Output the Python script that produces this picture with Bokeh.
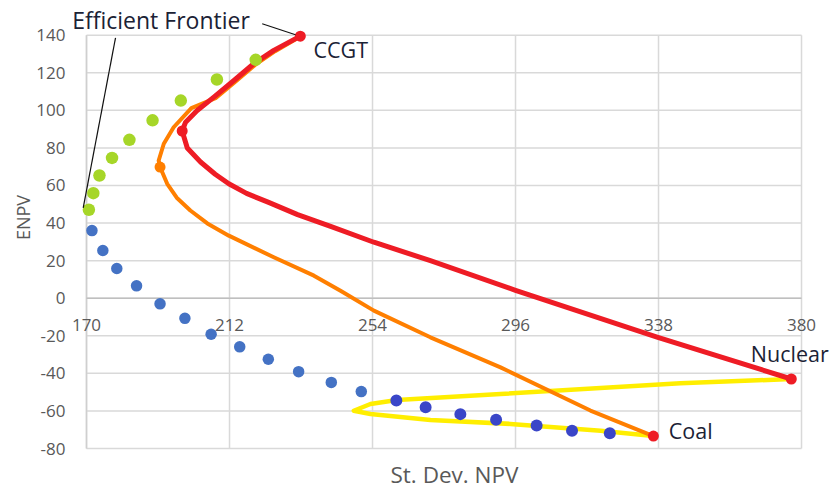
import math
from bokeh.plotting import figure
from bokeh.models import Range1d
from bokeh.core.properties import value
from bokeh.embed import file_html
from bokeh.resources import INLINE

# ---------------- data ----------------
x_ticks = [170, 212, 254, 296, 338, 380]
y_ticks = [-80, -60, -40, -20, 0, 20, 40, 60, 80, 100, 120, 140]
x_tick_labels = ["170", "212", "254", "296", "338", "380"]
y_tick_labels = ["-80", "-60", "-40", "-20", "0", "20", "40", "60", "80", "100", "120", "140"]

# Nuclear-CCGT frontier (red)
red_x = [232.8, 225.0, 219.1, 213.3, 207.4, 202.5, 199.1, 198.1, 199.6, 203.5, 207.8,
         211.8, 217.0, 223.5, 232.0, 241.7, 254.4, 271.0, 296.0, 337.8, 377.0]
red_y = [139.5, 131.9, 124.8, 115.9, 107.0, 99.9, 93.7, 89.0, 80.0, 72.5, 66.0,
         60.9, 55.8, 51.0, 44.5, 38.2, 29.8, 20.0, 4.2, -20.8, -43.0]

# Coal-CCGT frontier (orange)
orange_x = [232.8, 225.4, 219.6, 213.8, 207.9, 200.8, 195.6, 192.7, 191.2, 191.6,
            193.7, 196.5, 200.5, 205.5, 211.8, 225.0, 236.8, 244.6, 254.4, 271.0, 291.6, 318.0, 336.5]
orange_y = [139.3, 131.5, 124.3, 115.4, 106.5, 101.2, 91.0, 82.2, 73.3, 69.8,
            60.9, 53.5, 46.7, 39.8, 33.3, 21.8, 12.0, 4.0, -6.6, -20.8, -36.8, -59.8, -73.4]

# Nuclear-Coal frontier (yellow loop)
yellow_x = [377.0, 344.4, 291.6, 261.2, 253.4, 248.5, 253.4, 271.0, 294.5, 321.0, 336.5]
yellow_y = [-43.0, -45.3, -51.0, -54.2, -56.3, -59.9, -61.6, -64.8, -66.9, -70.5, -73.4]

# efficient frontier, upper part (green)
green_x = [170.7, 172.0, 173.8, 177.5, 182.6, 189.4, 197.7, 208.3, 219.7]
green_y = [47.1, 55.9, 65.3, 74.7, 84.3, 94.7, 105.2, 116.4, 126.9]

# efficient frontier, lower part (blue)
blue_x = [171.6, 174.8, 178.9, 184.7, 191.6, 198.9, 206.6, 215.0, 223.4, 232.3, 241.9, 250.7]
blue_y = [36.0, 25.4, 15.8, 6.6, -3.0, -10.7, -19.2, -25.9, -32.5, -39.1, -44.8, -49.7]

# lower part near coal (darker blue)
blue2_x = [261.0, 269.6, 279.8, 290.3, 302.2, 312.6, 323.7]
blue2_y = [-54.5, -58.1, -61.7, -64.7, -67.8, -70.5, -71.9]

# single-technology end points and curve minima
tech_names = ["CCGT", "Nuclear", "Coal"]
tech_x = [232.8, 377.0, 336.5]
tech_y = [139.5, -43.0, -73.4]
red_min_x, red_min_y = [198.1], [89.0]
orange_min_x, orange_min_y = [191.6], [69.8]

# ---------------- layout ----------------
X0, X1 = 170, 380
Y0, Y1 = -80, 140
FONT = value("Open Sans")
GRID = "#d9d9d9"
TICK = "#595959"
LBL = "#1b2235"

# frame covers the whole canvas; plot box 170..380 x -80..140 sits at the reference position
p = figure(width=837, height=493, output_backend="svg", toolbar_location=None,
           x_range=Range1d(144.74, 390.57), y_range=Range1d(-103.95, 158.47),
           x_axis_type=None, y_axis_type=None,
           min_border=0, min_border_left=0, min_border_right=0,
           min_border_top=0, min_border_bottom=0)
p.outline_line_color = None
p.background_fill_color = "white"
p.border_fill_color = "white"
p.xgrid.visible = False
p.ygrid.visible = False

# grid lines
p.segment(x0=x_ticks, y0=[Y0] * len(x_ticks), x1=x_ticks, y1=[Y1] * len(x_ticks),
          line_color=GRID, line_width=1.5)
p.segment(x0=[X0] * len(y_ticks), y0=y_ticks, x1=[X1] * len(y_ticks), y1=y_ticks,
          line_color=GRID, line_width=1.5)
# axis lines (value axis at x=170, category axis crossing at y=0)
p.segment(x0=[X0], y0=[Y0], x1=[X0], y1=[Y1], line_color="#cfcfcf", line_width=1.5)
p.segment(x0=[X0], y0=[0], x1=[X1], y1=[0], line_color="#bfbfbf", line_width=1.5)

# tick labels
p.text(x=[X0] * len(y_ticks), y=y_ticks, text=y_tick_labels, x_offset=-21,
       text_align="right", text_baseline="middle", text_font=FONT,
       text_font_size="17px", text_color=TICK)
p.text(x=x_ticks, y=[0] * len(x_ticks), text=x_tick_labels, y_offset=26.7,
       text_align="center", text_baseline="middle", text_font=FONT,
       text_font_size="17px", text_color=TICK)

# axis titles
p.text(x=[151.35], y=[42.96], text=["ENPV"], angle=math.pi / 2,
       text_align="center", text_baseline="middle", text_font=FONT,
       text_font_size="18px", text_color=TICK)
p.text(x=[278.08], y=[-94.1], text=["St. Dev. NPV"],
       text_align="center", text_baseline="middle", text_font=FONT,
       text_font_size="22.5px", text_color=TICK)

# curves
p.line(yellow_x, yellow_y, line_color="#ffee00", line_width=4.5, line_join="round", line_cap="round")
p.line(orange_x, orange_y, line_color="#ff7f00", line_width=4, line_join="round", line_cap="round")
p.line(red_x, red_y, line_color="#ee1c25", line_width=5, line_join="round", line_cap="round")

# points
p.scatter(green_x, green_y, size=12.5, fill_color="#a6d628", line_color=None)
p.scatter(blue_x, blue_y, size=11.5, fill_color="#4472c4", line_color=None)
p.scatter(blue2_x, blue2_y, size=12, fill_color="#3a46c8", line_color=None)
p.scatter(orange_min_x, orange_min_y, size=11, fill_color="#ff7f00", line_color=None)
p.scatter(red_min_x, red_min_y, size=11, fill_color="#ee1c25", line_color=None)
p.scatter(tech_x, tech_y, size=11, fill_color="#ee1c25", line_color=None)

# labels of the single-technology points
p.text(x=[236.67, 365.11, 341.03], y=[132.28, -29.38, -70.42], text=tech_names,
       text_align="left", text_baseline="middle", text_font=FONT,
       text_font_size="21.5px", text_color=LBL)

# "Efficient Frontier" annotation with leader lines
p.text(x=[165.80], y=[148.2], text=["Efficient Frontier"],
       text_align="left", text_baseline="middle", text_font=FONT,
       text_font_size="23px", text_color=LBL)
p.segment(x0=[221.60, 178.52], y0=[146.07, 138.62], x1=[231.38, 169.03], y1=[140.21, 48.13],
          line_color="#111111", line_width=1.2)

open("out.html", "w").write(file_html(p, INLINE))
